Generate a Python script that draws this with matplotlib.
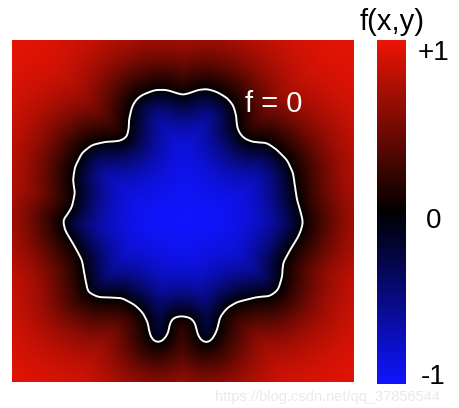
import numpy as np
import matplotlib
matplotlib.use("Agg")
import matplotlib.pyplot as plt
from matplotlib.path import Path
from matplotlib.colors import LinearSegmentedColormap

plt.rcParams["font.family"] = ["Liberation Sans", "DejaVu Sans"]

# f = 0 boundary (grid units, y pointing down)
boundary_x = [124, 130, 143, 155, 164, 171, 178, 186, 195, 205,
              215, 221, 224, 225, 228, 233, 241, 255, 265, 275,
              281, 283, 285, 288, 291, 289, 286, 278, 271, 270,
              266, 258, 245, 225, 215, 208, 205, 201, 197, 193,
              189, 186, 184, 183, 180, 176, 168, 161, 158, 156,
              153, 150, 146, 142, 139, 137, 136, 131, 123, 110,
              86, 76, 73, 70, 63, 53, 51, 55, 60, 63,
              61, 63, 70, 80, 93, 108, 115, 117, 117, 120]
boundary_y = [60, 55, 50, 50, 53, 55, 53, 50, 49, 52,
              58, 65, 75, 87, 94, 99, 102, 103, 110, 120,
              133, 147, 160, 170, 182, 190, 197, 210, 223, 237,
              250, 256, 257, 262, 268, 277, 290, 298, 302, 302.5,
              300, 295, 287, 283, 279, 277, 276, 278, 283, 293,
              298, 301, 302.5, 301, 297, 290, 283, 273, 265, 258,
              257, 252, 237, 220, 207, 190, 180, 175, 167, 153,
              140, 127, 113, 105, 102, 101, 97, 87, 80, 67]
domain = 342
cbar_ticks = [1, 0, -1]
cbar_labels = ["+1", "0", "-1"]

# signed distance to the boundary -> f in [-1, 1]
g = np.arange(domain) + 0.5
X, Y = np.meshgrid(g, g)
pts = np.column_stack([X.ravel(), Y.ravel()])
bx = np.array(boundary_x, float)
by = np.array(boundary_y, float)
d = np.full(len(pts), np.inf)
for i in range(len(bx)):
    x0, y0 = bx[i], by[i]
    x1, y1 = bx[(i + 1) % len(bx)], by[(i + 1) % len(by)]
    dx, dy = x1 - x0, y1 - y0
    t = ((pts[:, 0] - x0) * dx + (pts[:, 1] - y0) * dy) / (dx * dx + dy * dy)
    t = np.clip(t, 0, 1)
    dist = np.hypot(pts[:, 0] - (x0 + t * dx), pts[:, 1] - (y0 + t * dy))
    d = np.minimum(d, dist)
inside = Path(np.column_stack([bx, by])).contains_points(pts)
sd = np.where(inside, -d, d).reshape(X.shape)

# light blur to round off the polygon corners
k = np.exp(-0.5 * (np.arange(-8, 9) / 2.5) ** 2)
k /= k.sum()
sd = np.pad(sd, 8, mode="edge")
sd = np.apply_along_axis(lambda r: np.convolve(r, k, mode="same"), 0, sd)
sd = np.apply_along_axis(lambda r: np.convolve(r, k, mode="same"), 1, sd)
sd = sd[8:-8, 8:-8]

f = np.where(sd < 0, np.tanh(sd / 42.0), np.tanh(sd / 62.0))

cmap = LinearSegmentedColormap.from_list(
    "bkr", [(0.06, 0.08, 1.0), (0, 0, 0), (0.92, 0.08, 0.02)])

fig = plt.figure(figsize=(4.6, 4.08), dpi=100)
ax = fig.add_axes([12 / 460, 26 / 408, 342 / 460, 342 / 408])
im = ax.imshow(f, cmap=cmap, vmin=-1, vmax=1, extent=[0, domain, domain, 0],
               interpolation="bilinear")
ax.contour(X, Y, f, levels=[0], colors="white", linewidths=1.4)
ax.set_xlim(0, domain)
ax.set_ylim(domain, 0)
ax.set_axis_off()
ax.text(262, 64, "f = 0", color="white", fontsize=21, ha="center", va="center")

cax = fig.add_axes([377 / 460, 24 / 408, 29 / 460, 344 / 408])
cb = fig.colorbar(im, cax=cax)
cb.outline.set_visible(False)
cb.set_ticks([])
for v, lab in zip(cbar_ticks, cbar_labels):
    yy = {1: 0.962, 0: 0.474, -1: 0.02}[v]
    cax.text(1.95, yy, lab, transform=cax.transAxes, fontsize=20,
             ha="center", va="center")
fig.text(392 / 460, 1 - 22 / 408, "f(x,y)", fontsize=21, ha="center", va="center")

fig.text(328 / 460, 1 - 397 / 408, "https://blog.csdn.net/qq_37856544",
         fontsize=10.5, color="#e6e6e6", alpha=0.85, ha="center", va="center")

fig.savefig("out.png", dpi=100)
